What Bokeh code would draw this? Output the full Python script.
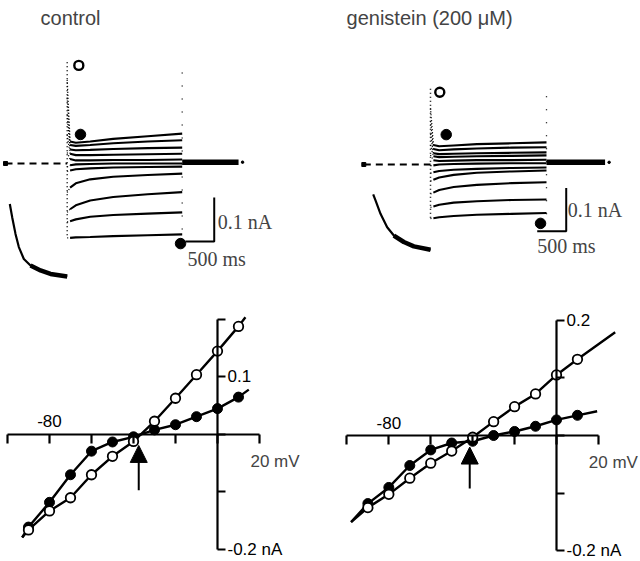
from bokeh.plotting import figure
from bokeh.models import (LinearAxis, FixedTicker, Arrow, NormalHead, Label, Range1d)
from bokeh.layouts import column, row
from bokeh.embed import file_html
from bokeh.resources import INLINE

# ---------------- data ----------------
# I-V relations (mV, nA)
voltages = [-90, -80, -70, -60, -50, -40, -30, -20, -10, 0, 10]
ctrl_open = [-0.166, -0.133, -0.110, -0.070, -0.038, -0.012, 0.023, 0.063, 0.104, 0.145, 0.188]
ctrl_filled = [-0.161, -0.118, -0.070, -0.029, -0.013, -0.004, 0.008, 0.017, 0.031, 0.045, 0.065]
gen_open = [-0.125, -0.102, -0.074, -0.048, -0.027, -0.003, 0.024, 0.050, 0.072, 0.105, 0.132]
gen_filled = [-0.118, -0.090, -0.052, -0.025, -0.013, -0.010, 0.000, 0.007, 0.016, 0.027, 0.035]
# ends of the drawn fit lines (mV, nA)
ctrl_open_fit_ends = [(-93, -0.179), (13.3, 0.204)]
ctrl_filled_fit_ends = [(-93, -0.179), (14.9, 0.078)]
gen_open_fit_ends = [(-98, -0.150), (28, 0.179)]
gen_filled_fit_ends = [(-98, -0.150), (19.4, 0.042)]
# reversal arrows (mV, nA tail, nA tip)
ctrl_arrow = (-37.5, -0.097, -0.019)
gen_arrow = (-41.4, -0.092, -0.020)
iv_xticks = [-100, -80, -60, -40, -20, 0, 20]
iv_yticks = [-0.2, -0.1, 0.0, 0.1, 0.2]

# current traces (ms, nA relative to holding level), steps +10 .. -90 mV
trace_t = [0, 50, 150, 400, 800, 1400, 2000]
ctrl_traces = [
    [0.190, 0.050, 0.047, 0.050, 0.056, 0.062, 0.068],
    [0.150, 0.042, 0.040, 0.042, 0.046, 0.050, 0.053],
    [0.110, 0.032, 0.030, 0.031, 0.033, 0.035, 0.036],
    [0.065, 0.022, 0.019, 0.019, 0.020, 0.021, 0.022],
    [0.025, 0.010, 0.007, 0.007, 0.008, 0.008, 0.009],
    [-0.008, -0.004, -0.002, -0.001, 0.000, 0.000, 0.000],
    [-0.018, -0.016, -0.013, -0.011, -0.009, -0.008, -0.007],
    [-0.066, -0.055, -0.045, -0.036, -0.030, -0.026, -0.023],
    [-0.111, -0.104, -0.095, -0.084, -0.076, -0.070, -0.065],
    [-0.133, -0.131, -0.127, -0.121, -0.117, -0.114, -0.111],
    [-0.169, -0.169, -0.168, -0.167, -0.165, -0.163, -0.161],
]
gen_traces = [
    [0.130, 0.045, 0.042, 0.044, 0.047, 0.049, 0.051],
    [0.100, 0.036, 0.033, 0.035, 0.037, 0.039, 0.040],
    [0.070, 0.026, 0.024, 0.025, 0.026, 0.027, 0.028],
    [0.045, 0.019, 0.017, 0.018, 0.019, 0.020, 0.021],
    [0.022, 0.010, 0.008, 0.009, 0.010, 0.010, 0.011],
    [-0.003, -0.002, 0.000, 0.001, 0.002, 0.003, 0.003],
    [-0.020, -0.018, -0.015, -0.012, -0.010, -0.008, -0.007],
    [-0.038, -0.035, -0.030, -0.024, -0.019, -0.016, -0.014],
    [-0.068, -0.065, -0.059, -0.052, -0.047, -0.043, -0.041],
    [-0.099, -0.097, -0.093, -0.088, -0.085, -0.082, -0.081],
    [-0.125, -0.124, -0.122, -0.119, -0.116, -0.114, -0.112],
]
ctrl_hold_t = [-1073, 0]
gen_hold_t = [-1150, 0]
ctrl_tail = ([2000, 2980], [0.003, 0.003])
gen_tail = ([2000, 3010], [0.005, 0.005])
ctrl_transient = [0.230, -0.170]
gen_transient = [0.175, -0.125]
# inset decay (ms, nA in panel coordinates)
ctrl_inset_t = [-998, -957, -899, -841, -754, -638, -464, -290, 0]
ctrl_inset_i = [-0.092, -0.122, -0.160, -0.190, -0.217, -0.232, -0.243, -0.251, -0.257]
gen_inset_t = [-988, -948, -862, -747, -632, -460, -287, 0]
gen_inset_i = [-0.069, -0.083, -0.114, -0.145, -0.164, -0.179, -0.189, -0.197]
# measurement symbols on traces (ms, nA)
ctrl_open_mark = (202, 0.223)
ctrl_filled_marks = ([231, 1971], [0.066, -0.182])
gen_open_mark = (160, 0.167)
gen_filled_marks = ([271, 1897], [0.069, -0.136])
scale_ms = 500
scale_na = 0.1

SANS = "Liberation Sans"
SERIF = "Liberation Serif"


def bare(width, height, xr, yr):
    p = figure(width=width, height=height, x_range=Range1d(*xr), y_range=Range1d(*yr),
               x_axis_type=None, y_axis_type=None, toolbar_location=None,
               output_backend="svg", min_border=0, outline_line_color=None, title=None)
    p.background_fill_color = "white"
    p.border_fill_color = "white"
    return p


def trace_panel(p, traces, hold_t, tail, transient, inset_t, inset_i, open_mark,
                filled_marks, bar_corner, title, title_pos, lab_nA, lab_ms):
    p.line(hold_t, [0, 0], line_color="black", line_width=2, line_dash="7 5")
    p.scatter([hold_t[0]], [0], marker="square", size=4, color="black")
    p.line([0, 0], transient, line_color="black", line_width=1.5, line_dash="1 3")
    p.line([trace_t[-1], trace_t[-1]], [transient[0] * 0.9, transient[1] * 0.95],
           line_color="black", line_width=1.3, line_dash="1 12")
    # fast instantaneous part of each sweep drawn dotted, the rest solid
    p.multi_line([trace_t[:2]] * len(traces), [tr[:2] for tr in traces],
                 line_color="black", line_width=1.3, line_dash="1 2")
    p.multi_line([trace_t[1:]] * len(traces), [tr[1:] for tr in traces],
                 line_color="black", line_width=2.1)
    p.line(tail[0], tail[1], line_color="black", line_width=5.5)
    p.scatter([tail[0][-1] + 70], [tail[1][-1]], marker="circle", size=2.5, color="black")
    p.line(inset_t, inset_i, line_color="black", line_width=2.2)
    p.line(inset_t[-4:], inset_i[-4:], line_color="black", line_width=4.5)
    p.scatter([open_mark[0]], [open_mark[1]], marker="circle", size=9, fill_color="white",
              line_color="black", line_width=2.4)
    p.scatter(filled_marks[0], filled_marks[1], marker="circle", size=10.5, color="black")
    bx, by = bar_corner
    p.line([bx - scale_ms, bx, bx], [by, by, by + scale_na], line_color="black", line_width=2)
    p.add_layout(Label(x=title_pos[0], y=title_pos[1], text=title, text_font=SANS,
                       text_font_size="20px", text_baseline="alphabetic"))
    p.add_layout(Label(x=lab_nA[0], y=lab_nA[1], text="0.1 nA", text_font=SERIF,
                       text_font_size="20px", text_baseline="middle"))
    p.add_layout(Label(x=lab_ms[0], y=lab_ms[1], text="500 ms", text_font=SERIF,
                       text_font_size="20px", text_baseline="middle"))


def iv_panel(p, v_open, i_open, v_filled, i_filled, open_ends, filled_ends, arrow,
             ylabels, mv_pos):
    xa = LinearAxis(fixed_location=0, bounds=(-100, 20), ticker=FixedTicker(ticks=iv_xticks),
                    major_tick_out=9, major_tick_in=0, minor_tick_out=0, minor_tick_in=0,
                    axis_line_width=2.2, major_tick_line_width=2.2,
                    major_label_overrides={t: "" for t in iv_xticks})
    p.add_layout(xa, "below")
    xa2 = LinearAxis(fixed_location=0, ticker=FixedTicker(ticks=[-80]),
                     major_tick_out=0, major_tick_in=0, minor_tick_out=0, minor_tick_in=0,
                     axis_line_color=None, major_label_standoff=7,
                     major_label_overrides={-80: "-80"},
                     major_label_text_font=SANS, major_label_text_font_size="17px",
                     major_label_text_color="black")
    p.add_layout(xa2, "above")
    ya = LinearAxis(fixed_location=0, bounds=(-0.2, 0.2), ticker=FixedTicker(ticks=iv_yticks),
                    major_tick_out=8, major_tick_in=0, minor_tick_out=0, minor_tick_in=0,
                    axis_line_width=2.2, major_tick_line_width=2.2, major_label_standoff=2,
                    major_label_overrides=ylabels, major_label_text_font=SANS,
                    major_label_text_font_size="17px", major_label_text_color="black")
    p.add_layout(ya, "right")
    p.add_layout(Label(x=mv_pos[0], y=mv_pos[1], text="20 mV", text_font=SANS,
                       text_font_size="17px", text_baseline="alphabetic"))
    ov = [open_ends[0][0]] + v_open + [open_ends[1][0]]
    oi = [open_ends[0][1]] + i_open + [open_ends[1][1]]
    fv = [filled_ends[0][0]] + v_filled + [filled_ends[1][0]]
    fi = [filled_ends[0][1]] + i_filled + [filled_ends[1][1]]
    p.line(fv, fi, line_color="black", line_width=2.4)
    p.line(ov, oi, line_color="black", line_width=2.4)
    p.scatter(v_filled, i_filled, marker="circle", size=10, color="black")
    p.scatter(v_open, i_open, marker="circle", size=9.5, fill_color="white",
              line_color="black", line_width=1.8)
    p.add_layout(Arrow(end=NormalHead(size=17, fill_color="black", line_color="black"),
                       x_start=arrow[0], y_start=arrow[1], x_end=arrow[0], y_end=arrow[2],
                       line_width=2, line_color="black"))


# top-left: control traces
p1 = bare(320, 290, (-1160.0, 4405.2), (-0.28864, 0.37045))
trace_panel(p1, ctrl_traces, ctrl_hold_t, ctrl_tail, ctrl_transient, ctrl_inset_t, ctrl_inset_i,
            ctrl_open_mark, ctrl_filled_marks, (2557, -0.177), "control", (-464, 0.331),
            (2617, -0.134), (2092, -0.216))

# top-right: genistein traces
p2 = bare(320, 290, (-1896.6, 3620.7), (-0.29099, 0.37875))
trace_panel(p2, gen_traces, gen_hold_t, gen_tail, gen_transient, gen_inset_t, gen_inset_i,
            gen_open_mark, gen_filled_marks, (2340, -0.154), "genistein (200 \u03bcM)",
            (-1448, 0.3388), (2367, -0.105), (1840, -0.189))

# bottom-left: control I-V
p3 = bare(320, 271, (-103.33, 49.05), (-0.22087, 0.25043))
iv_panel(p3, voltages, ctrl_open, voltages, ctrl_filled, ctrl_open_fit_ends,
         ctrl_filled_fit_ends, ctrl_arrow,
         {-0.2: "-0.2 nA", -0.1: "", 0.0: "", 0.1: "0.1", 0.2: ""}, (15.7, -0.0464))

# bottom-right: genistein I-V
p4 = bare(320, 271, (-112.6, 40.08), (-0.21837, 0.2513))
iv_panel(p4, voltages, gen_open, voltages, gen_filled, gen_open_fit_ends,
         gen_filled_fit_ends, gen_arrow,
         {-0.2: "-0.2 nA", -0.1: "", 0.0: "", 0.1: "", 0.2: "0.2"}, (15.4, -0.0463))

layout = column(row(p1, p2), row(p3, p4))
open("out.html", "w").write(file_html(layout, INLINE))
